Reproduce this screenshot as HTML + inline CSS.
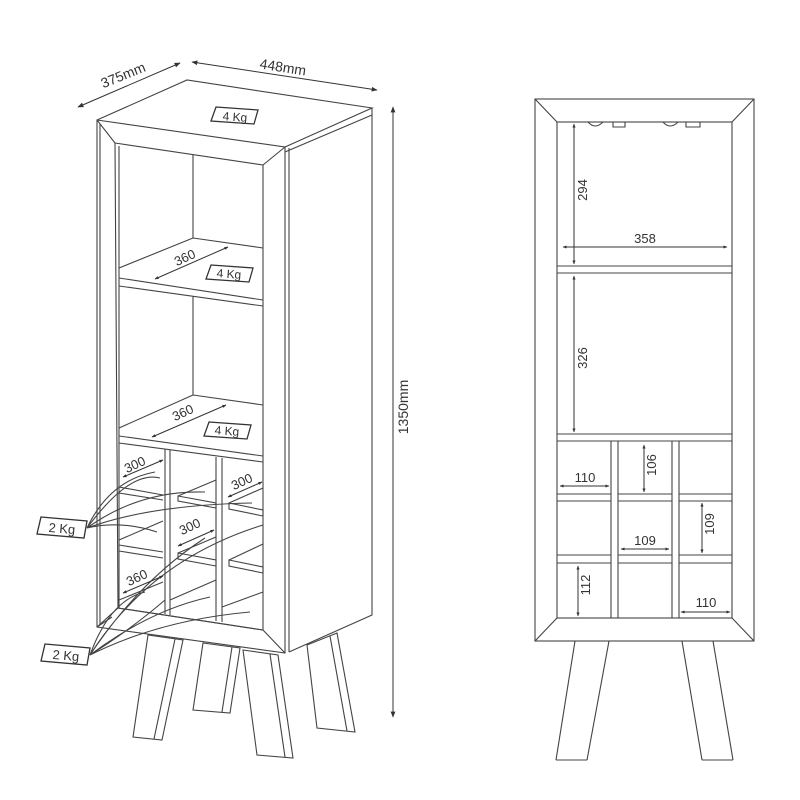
<!DOCTYPE html>
<html><head><meta charset="utf-8"><style>
html,body{margin:0;padding:0;background:#fff;}
svg{display:block;}
text{font-family:"Liberation Sans",sans-serif;fill:#333;}
</style></head><body>
<svg width="800" height="800" viewBox="0 0 800 800" xmlns="http://www.w3.org/2000/svg">
<defs>
<marker id="a" viewBox="0 0 10 10" refX="9" refY="5" markerWidth="6" markerHeight="6" orient="auto-start-reverse"><path d="M0,1L10,5L0,9z" fill="#333"/></marker>
<marker id="s" viewBox="0 0 10 10" refX="9" refY="5" markerWidth="4" markerHeight="4" orient="auto-start-reverse"><path d="M0,1L10,5L0,9z" fill="#333"/></marker>
</defs>
<g fill="none" stroke="#444" stroke-width="1.1">
<path d="M97,120 L187,80 L372,108 L285,147"/>
<path d="M285,152 L372,115"/>
<path d="M97,120 L285,147 L285,653 L97,627 Z" fill="#fff"/>
<path d="M100,124 L100,625"/>
<path d="M289,148 L289,652"/>
<path d="M372,108 L372,615 L289,652"/>
<path d="M115,143 L263,165 L263,630 L118,608 Z"/>
<path d="M119,146 L119,608"/>
<path d="M97,120 L115,143 M285,147 L263,165 M97,627 L118,608 M285,653 L263,630"/>
<path d="M193,155 L193,238 M193,296 L193,395"/>
<path d="M193,238 L263,248 M193,238 L119,268 M119,278 L263,300 M119,286 L263,306"/>
<path d="M193,395 L263,405 M193,395 L119,428 M119,436 L263,456 M119,443 L263,462"/>
<path d="M165,449 L165,614 M170,450 L170,615 M216,457 L216,621 M222,458 L222,622"/>
<path d="M119,487 L163,495 M119,493 L163,500"/>
<path d="M178,496 L216,503 L216,508 L178,501 Z M178,496 L216,480"/>
<path d="M229,503 L263,510 L263,516 L229,509 Z M229,503 L263,488"/>
<path d="M119,545 L163,552 M119,551 L163,558 M119,540 L163,521"/>
<path d="M178,553 L216,560 L216,566 L178,559 Z M178,553 L216,537"/>
<path d="M229,560 L263,567 L263,573 L229,566 Z M229,560 L263,544"/>
<path d="M119,600 L163,582 M170,600 L216,580 M222,607 L263,592"/>
<path d="M97,627 L112,617 M118,608 L263,630"/>
<path d="M148,635 L183,640 L162,740 L133,737 Z M175,639 L154,739" fill="#fff"/>
<path d="M203,643 L240,648 L230,713 L193,710 Z M232,647 L222,712" fill="#fff"/>
<path d="M243,650 L278,655 L293,758 L257,755 Z M270,654 L285,757" fill="#fff"/>
<path d="M307,645 L337,633 L355,732 L317,728 Z M330,636 L347,731" fill="#fff"/>
<path d="M87,528 Q110,480 155,472 M87,528 Q140,490 205,492 M87,528 Q150,505 252,503 M87,528 Q120,520 157,532 M87,528 Q130,470 160,478"/>
<path d="M90,655 Q110,600 145,592 M90,655 Q140,580 205,538 M90,655 Q150,560 263,525 M90,655 Q150,610 210,597 M90,655 Q160,620 250,612 M90,655 Q130,630 165,600"/>
</g>
<g stroke="#333" stroke-width="1" fill="none">
<line x1="78" y1="107" x2="180" y2="63" marker-start="url(#a)" marker-end="url(#a)"/>
<line x1="192" y1="62" x2="377" y2="90" marker-start="url(#a)" marker-end="url(#a)"/>
<line x1="393" y1="107" x2="393" y2="717" marker-start="url(#a)" marker-end="url(#a)"/>
<line x1="155" y1="279" x2="228" y2="247" marker-start="url(#s)" marker-end="url(#s)"/>
<line x1="152" y1="437" x2="226" y2="405" marker-start="url(#s)" marker-end="url(#s)"/>
<line x1="123" y1="477" x2="163" y2="460" marker-start="url(#s)" marker-end="url(#s)"/>
<line x1="228" y1="497" x2="262" y2="482" marker-start="url(#s)" marker-end="url(#s)"/>
<line x1="178" y1="546" x2="214" y2="530" marker-start="url(#s)" marker-end="url(#s)"/>
<line x1="123" y1="593" x2="163" y2="576" marker-start="url(#s)" marker-end="url(#s)"/>
</g>
<text x="123" y="80" font-size="14" text-anchor="middle" transform="rotate(-22 123 75)">375mm</text>
<text x="283" y="72" font-size="14" text-anchor="middle" transform="rotate(9 283 67)">448mm</text>
<text x="413" y="412" font-size="14" text-anchor="middle" transform="rotate(-90 408 412)">1350mm</text>
<text x="185" y="262" font-size="13" text-anchor="middle" transform="rotate(-25 185 258)">360</text>
<text x="183" y="417" font-size="13" text-anchor="middle" transform="rotate(-25 183 413)">360</text>
<text x="135" y="469" font-size="13" text-anchor="middle" transform="rotate(-25 135 465)">300</text>
<text x="242" y="486" font-size="13" text-anchor="middle" transform="rotate(-25 242 482)">300</text>
<text x="190" y="531" font-size="13" text-anchor="middle" transform="rotate(-25 190 527)">300</text>
<text x="137" y="582" font-size="13" text-anchor="middle" transform="rotate(-25 137 578)">360</text>
<g stroke="#333" stroke-width="1.3" fill="#fff">
<path d="M216,107 L258,110 L254,124 L211,121 Z"/>
<path d="M211,265 L253,268 L249,282 L206,279 Z"/>
<path d="M209,422 L251,425 L247,439 L204,436 Z"/>
<path d="M41,517 L87,521 L84,538 L37,534 Z"/>
<path d="M45,644 L90,648 L87,665 L41,661 Z"/>
</g>
<text x="235" y="121" font-size="12" text-anchor="middle" transform="rotate(4 235 116)">4 Kg</text>
<text x="229" y="278" font-size="12" text-anchor="middle" transform="rotate(4 229 273)">4 Kg</text>
<text x="227" y="435" font-size="12" text-anchor="middle" transform="rotate(4 227 430)">4 Kg</text>
<text x="62" y="533" font-size="13" text-anchor="middle" transform="rotate(5 62 528)">2 Kg</text>
<text x="66" y="660" font-size="13" text-anchor="middle" transform="rotate(5 66 655)">2 Kg</text>

<g fill="none" stroke="#444" stroke-width="1.1">
<rect x="535" y="99" width="219" height="542"/>
<rect x="557" y="122" width="175" height="496"/>
<path d="M535,99 L557,122 M754,99 L732,122 M535,641 L557,618 M754,641 L732,618"/>
<path d="M557,266 H732 M557,273 H732"/>
<path d="M557,434 H732 M557,441 H732"/>
<path d="M611,441 V618 M618,441 V618 M672,441 V618 M679,441 V618"/>
<path d="M557,494 H611 M618,494 H672 M679,494 H732 M557,501 H611 M618,501 H672 M679,501 H732"/>
<path d="M557,555 H611 M618,555 H672 M679,555 H732 M557,563 H611 M618,563 H672 M679,563 H732"/>
<path d="M588,122 Q595,130 603,122 M613,122 L613,127 L625,127 L625,122 M663,122 Q670,130 678,122 M686,122 L686,127 L700,127 L700,122"/>
<path d="M575,641 L556,760 M609,641 L587,760 M556,760 H587"/>
<path d="M682,641 L702,760 M713,641 L733,760 M702,760 H733"/>
</g>
<g stroke="#333" stroke-width="1" fill="none">
<line x1="574" y1="124" x2="574" y2="264" marker-start="url(#s)" marker-end="url(#s)"/>
<line x1="563" y1="247" x2="727" y2="247" marker-start="url(#s)" marker-end="url(#s)"/>
<line x1="574" y1="276" x2="574" y2="432" marker-start="url(#s)" marker-end="url(#s)"/>
<line x1="644" y1="445" x2="644" y2="492" marker-start="url(#s)" marker-end="url(#s)"/>
<line x1="560" y1="486" x2="609" y2="486" marker-start="url(#s)" marker-end="url(#s)"/>
<line x1="702" y1="503" x2="702" y2="553" marker-start="url(#s)" marker-end="url(#s)"/>
<line x1="621" y1="549" x2="669" y2="549" marker-start="url(#s)" marker-end="url(#s)"/>
<line x1="578" y1="566" x2="578" y2="616" marker-start="url(#s)" marker-end="url(#s)"/>
<line x1="681" y1="612" x2="730" y2="612" marker-start="url(#s)" marker-end="url(#s)"/>
</g>
<g font-size="13">
<text x="591" y="194" text-anchor="middle" transform="rotate(-90 587 194)">294</text>
<text x="645" y="243" text-anchor="middle">358</text>
<text x="591" y="362" text-anchor="middle" transform="rotate(-90 587 362)">326</text>
<text x="660" y="469" text-anchor="middle" transform="rotate(-90 656 469)">106</text>
<text x="585" y="482" text-anchor="middle">110</text>
<text x="718" y="528" text-anchor="middle" transform="rotate(-90 714 528)">109</text>
<text x="645" y="545" text-anchor="middle">109</text>
<text x="594" y="589" text-anchor="middle" transform="rotate(-90 590 589)">112</text>
<text x="706" y="607" text-anchor="middle">110</text>
</g>
</svg>
</body></html>
